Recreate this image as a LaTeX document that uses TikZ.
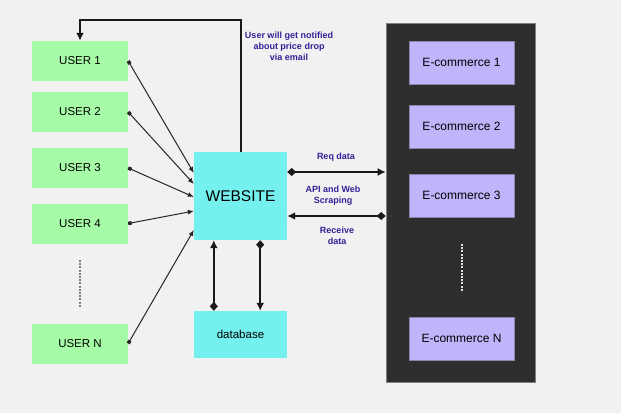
\documentclass[tikz,border=0pt]{standalone}
\usepackage{fontspec}
\setmainfont{Liberation Sans}
\usetikzlibrary{positioning,arrows.meta,calc}
\definecolor{bggray}{RGB}{241,241,241}
\definecolor{usergreen}{RGB}{166,251,166}
\definecolor{webcyan}{RGB}{116,240,238}
\definecolor{shoppurple}{RGB}{193,180,250}
\definecolor{shopedge}{RGB}{140,132,170}
\definecolor{paneldark}{RGB}{46,46,46}
\definecolor{notecolor}{RGB}{55,30,150}

\begin{document}
\begin{tikzpicture}[x=1pt, y=-1pt, on grid, node distance=56pt,
    box/.style={minimum width=96pt, minimum height=40pt, inner sep=0pt,
      font=\fontsize{11.5}{13}\selectfont},
    user/.style={box, fill=usergreen},
    site/.style={box, fill=webcyan, minimum width=93pt},
    shop/.style={box, fill=shoppurple, draw=shopedge, line width=0.6pt,
      minimum width=105pt, minimum height=43pt, font=\fontsize{12}{14}\selectfont},
    note/.style={font=\fontsize{9}{11}\bfseries\selectfont, text=notecolor, align=center},
    ulink/.style={{Square[length=3.5pt,width=3.5pt]}-{Latex[length=6pt,width=5pt]}, line width=1pt, black!85},
    dlink/.style={{Diamond[length=9pt,width=8pt]}-{Latex[length=8pt,width=8pt]}, line width=2pt, black!90},
    dots/.style={dash pattern=on 2pt off 1.2pt, line width=1.2pt}]
  \fill[bggray] (0,0) rectangle (621,413);%
  % users
  \node[user] (u1) at (80,61) {USER 1};%
  \node[user] (u2) [below=51pt of u1] {USER 2};%
  \node[user] (u3) [below=56pt of u2] {USER 3};%
  \node[user] (u4) [below=55.5pt of u3] {USER 4};%
  \node[user] (uN) [below=120pt of u4] {USER N};%
  \draw[dots, gray] (80,260) -- (80,307);%
  % website and database
  \node[site, minimum height=88pt, font=\fontsize{15.5}{18}\selectfont] (web) at (240.5,196) {WEBSITE};%
  \node[site, minimum height=47pt] (db) at (240.5,334.5) {database};%
  % e-commerce panel
  \node[fill=paneldark, draw=gray, line width=0.6pt, minimum width=149pt,
    minimum height=359pt] (panel) at (460.5,202.5) {};%
  \node[shop] (e1) at (461.5,62.5) {E-commerce 1};%
  \node[shop] (e2) [below=64pt of e1] {E-commerce 2};%
  \node[shop] (e3) [below=69pt of e2] {E-commerce 3};%
  \node[shop] (eN) [below=143pt of e3] {E-commerce N};%
  \draw[dots, white!75!gray] (462,244) -- (462,292);%
  % users to website
  \draw[ulink] (u1.east) -- ([yshift=23pt]web.west);%
  \draw[ulink] (u2.east) -- ([yshift=12pt]web.west);%
  \draw[ulink] (u3.east) -- ([yshift=-1pt]web.west);%
  \draw[ulink] (u4.east) -- ([yshift=-15pt]web.west);%
  \draw[ulink] (uN.east) -- ([yshift=-34pt]web.west);%
  % notification
  \coordinate (top) at (240,20);%
  \draw[-{Latex[length=8pt,width=8pt]}, line width=2pt, black!90] (web.north) -- (web.north |- top) -| (u1.north);%
  \node[note] (mail) at (289,46) {User will get notified\\about price drop\\via email};%
  % website <-> e-commerce
  \coordinate (req) at ([yshift=24pt]web.east);%
  \coordinate (rec) at ([yshift=-20pt]web.east);%
  \draw[dlink] (req) -- (req -| panel.west);%
  \draw[dlink] (rec -| panel.west) -- (rec);%
  \node[note] (reqtxt) at (336,157) {Req data};%
  \node[note] (api) at (333,196) {API and Web\\Scraping};%
  \node[note] (rectxt) at (337,236) {Receive\\data};%
  % website <-> database
  \draw[dlink] ([xshift=20pt]db.north west) -- ([xshift=20pt]web.south west);%
  \draw[dlink] ([xshift=-27pt]web.south east) -- ([xshift=-27pt]db.north east);%
\end{tikzpicture}
\end{document}
